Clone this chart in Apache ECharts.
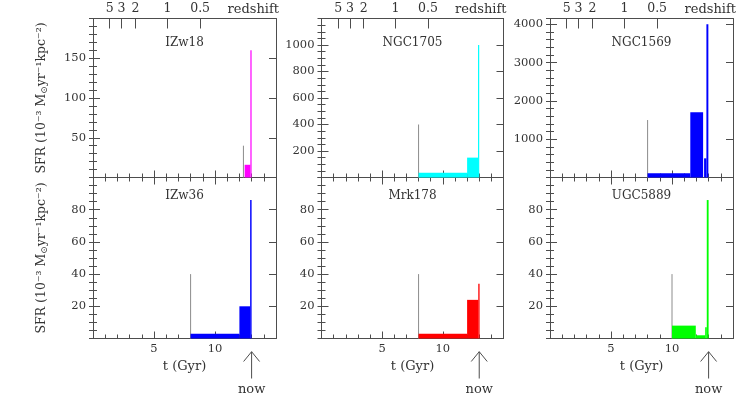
<!DOCTYPE html>
<html>
<head>
<meta charset="utf-8">
<script src="https://cdn.jsdelivr.net/npm/echarts@6/dist/echarts.min.js"></script>
<style>
  html, body { margin: 0; padding: 0; background: #fff; }
  #chart { width: 750px; height: 415px; }
</style>
</head>
<body>
<div id="chart"></div>
<script>
// panels: top row then bottom row
const galaxyNames = ['IZw18', 'NGC1705', 'NGC1569', 'IZw36', 'Mrk178', 'UGC5889'];

// SFR history bins: edges in Gyr, rate in 1e-3 Msun/yr/kpc^2
const izw18Edges = [12.43, 12.9, 13.0];
const izw18Sfr = [16, 160];
const ngc1705Edges = [8, 12, 12.9, 13.0];
const ngc1705Sfr = [35, 150, 1000];
const ngc1569Edges = [8, 11.5, 12.55, 12.63, 12.82, 12.98];
const ngc1569Sfr = [110, 1700, 0, 500, 4000];
const izw36Edges = [8, 12, 12.88, 13.0];
const izw36Sfr = [3, 20, 86];
const mrk178Edges = [8, 12, 12.92, 13.03];
const mrk178Sfr = [3, 24, 34];
const ugc5889Edges = [10, 11.95, 12.72, 12.85, 13.0];
const ugc5889Sfr = [8, 2, 7, 86];

// grey line: look-back limit of each study
const limitTime = [12.33, 8, 8, 8, 8, 10];
const limitSfr = [40, 400, 1500, 40, 40, 40];

// y scales
const yMax = [200, 1200, 4150, 100, 100, 100];
const yStep = [50, 200, 1000, 20, 20, 20];
const yMinorStep = [10, 50, 200, 5, 5, 5];

// time axis
const tMax = 15;
const tStep = 5;
const tNow = 13;

// redshift ticks on top
const zLabels = ['5', '3', '2', '1', '0.5'];
const zTimes = [1.37, 2.34, 3.48, 6.1, 8.78];

const allEdges = [izw18Edges, ngc1705Edges, ngc1569Edges, izw36Edges, mrk178Edges, ugc5889Edges];
const allSfr = [izw18Sfr, ngc1705Sfr, ngc1569Sfr, izw36Sfr, mrk178Sfr, ugc5889Sfr];
const fills = ['#ff00ff', '#00ffff', '#0000ff', '#0000ff', '#ff0000', '#00ff00'];

const colLeft = [93, 321.5, 550];
const colWidth = [183, 182, 183];
const rowTop = [18.5, 177.5];
const rowHeight = [159, 161];

const font = 'DejaVu Serif';
const textColor = '#333';
const axisColor = '#4d4d4d';

const chart = echarts.init(document.getElementById('chart'));

const grid = [], xAxis = [], yAxis = [], series = [], graphic = [];

// ticks point into the frame
const tick = len => ({ show: true, inside: true, length: len, lineStyle: { color: axisColor, width: 1 } });

galaxyNames.forEach((name, i) => {
  const row = i < 3 ? 0 : 1;
  const col = i % 3;
  grid.push({
    left: colLeft[col], top: rowTop[row], width: colWidth[col], height: rowHeight[row],
    outerBoundsMode: 'none', containLabel: false
  });

  const lbl = { color: textColor, fontFamily: font, fontSize: 11.5 };
  const frameLine = { onZero: false, lineStyle: { color: axisColor, width: 1 } };

  // bottom time axis
  xAxis.push({
    gridIndex: i, type: 'value', position: 'bottom', min: 0, max: tMax, interval: tStep,
    axisLine: frameLine,
    axisTick: tick(7),
    minorTick: { ...tick(4), splitNumber: 5 },
    splitLine: { show: false }, minorSplitLine: { show: false },
    axisLabel: {
      show: row === 1, margin: 5, ...lbl,
      formatter: v => (v > 0 && v < tMax ? String(v) : '')
    },
    name: row === 1 ? 't (Gyr)' : '', nameLocation: 'middle', nameGap: 22,
    nameTextStyle: { color: textColor, fontFamily: font, fontSize: 13 }
  });

  // top axis: redshift on top row, mirrored ticks on bottom row
  if (row === 0) {
    xAxis.push({
      gridIndex: i, type: 'value', position: 'top', min: 0, max: tMax,
      axisLine: frameLine,
      axisTick: { ...tick(10), customValues: zTimes },
      splitLine: { show: false },
      axisLabel: {
        customValues: zTimes, margin: 3, hideOverlap: false, ...lbl, fontSize: 12.5,
        formatter: v => {
          const k = zTimes.findIndex(t => Math.abs(t - v) < 1e-6);
          return k >= 0 ? zLabels[k] : '';
        }
      },
      name: 'redshift', nameLocation: 'end', nameGap: 3,
      nameTextStyle: {
        color: textColor, fontFamily: font, fontSize: 13,
        align: 'right', verticalAlign: 'bottom', padding: [0, 0, 2, 0]
      }
    });
  } else {
    xAxis.push({
      gridIndex: i, type: 'value', position: 'top', min: 0, max: tMax, interval: tStep,
      axisLine: frameLine,
      axisTick: tick(7),
      minorTick: { ...tick(4), splitNumber: 5 },
      splitLine: { show: false }, minorSplitLine: { show: false },
      axisLabel: { show: false }
    });
  }

  // y axes: major + minor on both sides
  ['left', 'right'].forEach(side => {
    yAxis.push({
      gridIndex: i, type: 'value', position: side, min: 0, max: yMax[i], interval: yStep[i],
      axisLine: frameLine,
      axisTick: tick(7),
      splitLine: { show: false },
      axisLabel: {
        show: side === 'left', margin: 7, ...lbl,
        formatter: v => (v > 0 && v < yMax[i] && v % yStep[i] === 0 ? String(v) : '')
      },
      name: side === 'left' && col === 0 ? 'SFR (10⁻³ M{sun|⊙}yr⁻¹kpc⁻²)' : '',
      nameLocation: 'middle', nameRotate: 90, nameGap: 44,
      nameTextStyle: {
        color: textColor, fontFamily: font, fontSize: 12.5,
        rich: { sun: { fontSize: 9, color: textColor, verticalAlign: 'bottom', padding: [6, 0, 0, 0] } }
      }
    });
    yAxis.push({
      gridIndex: i, type: 'value', position: side, min: 0, max: yMax[i], interval: yMinorStep[i],
      axisLine: { show: false },
      axisTick: tick(4),
      splitLine: { show: false },
      axisLabel: { show: false }
    });
  });

  const edges = allEdges[i];
  const bins = allSfr[i].map((s, k) => [edges[k], edges[k + 1], s]);
  const fill = fills[i];

  series.push({
    type: 'line', xAxisIndex: 2 * i, yAxisIndex: 4 * i,
    data: [[limitTime[i], 0], [limitTime[i], limitSfr[i]]],
    symbol: 'none', silent: true, z: 1,
    lineStyle: { color: '#8c8c8c', width: 1 }
  });
  series.push({
    type: 'custom', xAxisIndex: 2 * i, yAxisIndex: 4 * i, silent: true, z: 2,
    encode: { x: [0, 1], y: 2 },
    data: bins,
    renderItem: (params, api) => {
      if (api.value(2) <= 0) return null;
      const a = api.coord([api.value(0), api.value(2)]);
      const b = api.coord([api.value(1), 0]);
      return {
        type: 'rect',
        shape: { x: a[0], y: a[1], width: b[0] - a[0], height: b[1] - a[1] },
        style: { fill: fill }
      };
    }
  });

  graphic.push({
    type: 'text', x: colLeft[col] + colWidth[col] / 2, y: row === 0 ? 43 : 196,
    style: { text: name, align: 'center', verticalAlign: 'middle', fill: textColor, font: '12px "' + font + '"' }
  });
});

chart.setOption({ animation: false, grid, xAxis, yAxis, series, graphic });

// "now" arrows below the bottom row
const arrows = [];
[3, 4, 5].forEach(i => {
  const x = chart.convertToPixel({ xAxisIndex: 2 * i }, tNow);
  arrows.push({
    type: 'polyline', shape: { points: [[x - 8, 361.5], [x, 351.7], [x + 8, 361.5]] },
    style: { stroke: axisColor, lineWidth: 1, fill: null }
  });
  arrows.push({
    type: 'line', shape: { x1: x, y1: 351.7, x2: x, y2: 378.5 },
    style: { stroke: axisColor, lineWidth: 1 }
  });
  arrows.push({
    type: 'text', x: x, y: 390,
    style: { text: 'now', align: 'center', verticalAlign: 'middle', fill: textColor, font: '13px "' + font + '"' }
  });
});
chart.setOption({ graphic: graphic.concat(arrows) });
</script>
</body>
</html>
